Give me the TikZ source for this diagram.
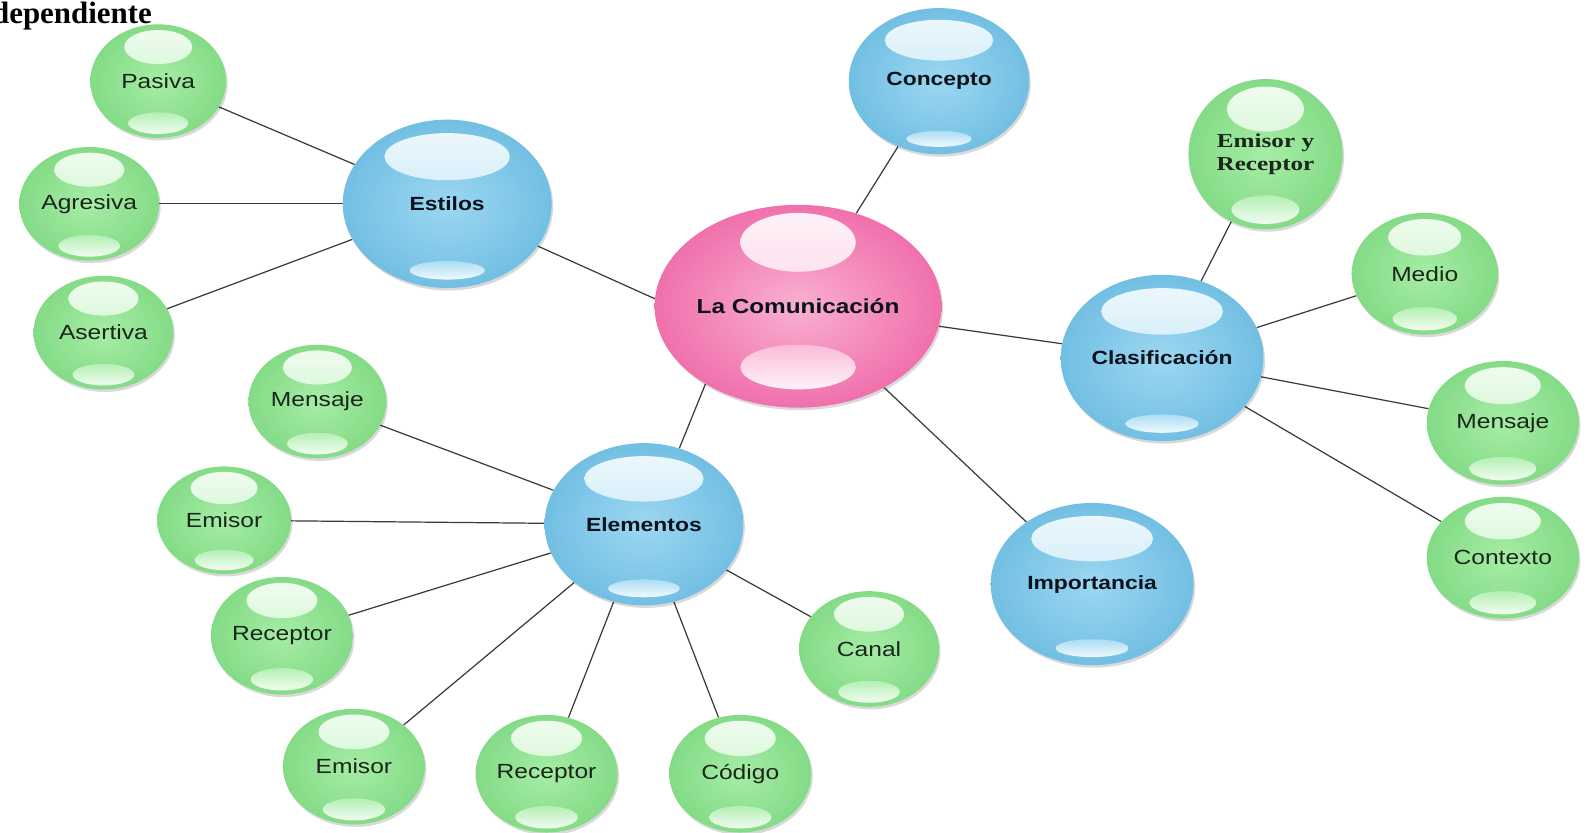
\documentclass[tikz,border=0pt]{standalone}
\usepackage{fontspec}
\usepackage{graphicx}
\setmainfont{Liberation Sans}
\newfontfamily\tnrfont{Liberation Serif}
\usetikzlibrary{shapes.geometric,shadows,backgrounds}
\definecolor{gIn}{HTML}{A6EDA6}
\definecolor{gOut}{HTML}{84DB86}
\definecolor{bIn}{HTML}{9CD7F1}
\definecolor{bOut}{HTML}{72BFE3}
\definecolor{pIn}{HTML}{F9B0D2}
\definecolor{pOut}{HTML}{F070AC}
\definecolor{lineC}{HTML}{3A3A3A}
\definecolor{txtG}{HTML}{1A261A}
\definecolor{txtB}{HTML}{0B121C}

\newcommand\hlkindg{\def\hTO{0.6}\def\hTX{0.5}\def\hTY{0.3}\def\hBO{0.74}\def\hBX{0.44}\def\hBY{0.19}}
\newcommand\hlkindb{\def\hTO{0.56}\def\hTX{0.6}\def\hTY{0.28}\def\hBO{0.79}\def\hBX{0.36}\def\hBY{0.11}}
\newcommand\hlkindp{\def\hTO{0.63}\def\hTX{0.47}\def\hTY{0.29}\def\hBO{0.6}\def\hBX{0.47}\def\hBY{0.22}}

\tikzset{
  bubble/.style={ellipse, inner sep=0pt, shading=radial, inner color=#1In, outer color=#1Out,
     drop shadow={shadow xshift=1.5pt, shadow yshift=-2.5pt, opacity=0.15, fill=black}},
  conn/.style={draw=lineC, line width=1.2pt},
  lblG/.style={font=\fontsize{20.2}{24}\selectfont, text=txtG},
  lblB/.style={font=\bfseries\fontsize{18.8}{22}\selectfont, text=txtB},
  lblP/.style={font=\bfseries\fontsize{20}{24}\selectfont, text=txtB},
  lblS/.style={font=\tnrfont\bfseries\fontsize{19.5}{24}\selectfont, text=txtG},
}

\newcommand\bub[8]{%
 \csname hlkind#6\endcsname
 \node[bubble=#6, minimum width={2*#4pt}, minimum height={2*#5pt}, #7,
   path picture={
     \shade[top color=white!85!#6In, bottom color=#6In!80!white]
       ([yshift={\hTO*#5pt}]path picture bounding box.center) ellipse ({\hTX*#4pt} and {\hTY*#5pt});
     \shade[top color=#6In!85!white, bottom color=white!85!#6In]
       ([yshift={-\hBO*#5pt}]path picture bounding box.center) ellipse ({\hBX*#4pt} and {\hBY*#5pt});
   }] (#1) at (#2,#3) {\scalebox{1.2}[1]{#8}};}

\begin{document}
\begin{tikzpicture}[x=1pt,y=-1pt]
\useasboundingbox (0,0) rectangle (1568,821);

\node[anchor=base west, inner sep=0pt, font=\tnrfont\bfseries\fontsize{30.5}{30.5}\selectfont] (title) at (-8,23.5) {dependiente};

\bub{pasiva}{156}{80}{67}{56}{g}{lblG}{Pasiva}
\bub{agresiva}{88}{201}{69}{56}{g}{lblG}{Agresiva}
\bub{asertiva}{102}{328}{69}{56}{g}{lblG}{Asertiva}
\bub{estilos}{441}{201}{103}{83}{b}{lblB}{Estilos}
\bub{concepto}{926}{80}{89}{72}{b}{lblB}{Concepto}
\bub{lacom}{787}{302}{121}{100}{p}{lblP}{La Comunicación}
\bub{emyrec}{1248}{152}{76}{74}{g}{lblS}{\scalebox{1.06}[1]{\begin{tabular}{@{}c@{}}Emisor y\\[-1pt]Receptor\end{tabular}}}
\bub{medio}{1405}{270}{72}{60}{g}{lblG}{Medio}
\bub{clasif}{1146}{353}{100}{82}{b}{lblB}{Clasificación}
\bub{mensajeR}{1482}{417}{75}{61}{g}{lblG}{Mensaje}
\bub{contexto}{1482}{550}{75}{60}{g}{lblG}{Contexto}
\bub{importancia}{1077}{576}{100}{80}{b}{lblB}{Importancia}
\bub{mensajeL}{313}{396}{68}{56}{g}{lblG}{Mensaje}
\bub{emisorL}{221}{513}{66}{53}{g}{lblG}{Emisor}
\bub{elementos}{635}{517}{98}{80}{b}{lblB}{Elementos}
\bub{receptorL}{278}{627}{70}{58}{g}{lblG}{Receptor}
\bub{canal}{857}{640}{69}{57}{g}{lblG}{Canal}
\bub{emisorB}{349}{756}{70}{57}{g}{lblG}{Emisor}
\bub{receptorB}{539}{763}{70}{58}{g}{lblG}{Receptor}
\bub{codigo}{730}{763}{70}{58}{g}{lblG}{Código}

\begin{scope}[on background layer]
\fill[white] (0,0) rectangle (1568,821);
\draw[conn] (pasiva) -- (estilos);
\draw[conn] (agresiva) -- (estilos);
\draw[conn] (asertiva) -- (estilos);
\draw[conn] (estilos.335) -- (lacom.177);
\draw[conn] (concepto) -- (lacom);
\draw[conn] (lacom) -- (clasif);
\draw[conn] (clasif) -- (emyrec);
\draw[conn] (clasif) -- (medio);
\draw[conn] (clasif) -- (mensajeR);
\draw[conn] (clasif) -- (contexto);
\draw[conn] (lacom) -- (importancia);
\draw[conn] (lacom.220) -- (elementos.65);
\draw[conn] (mensajeL) -- (elementos);
\draw[conn] (emisorL) -- (elementos);
\draw[conn] (receptorL) -- (elementos);
\draw[conn] (emisorB) -- (elementos);
\draw[conn] (receptorB) -- (elementos);
\draw[conn] (codigo) -- (elementos);
\draw[conn] (canal) -- (elementos);
\end{scope}
\end{tikzpicture}
\end{document}
